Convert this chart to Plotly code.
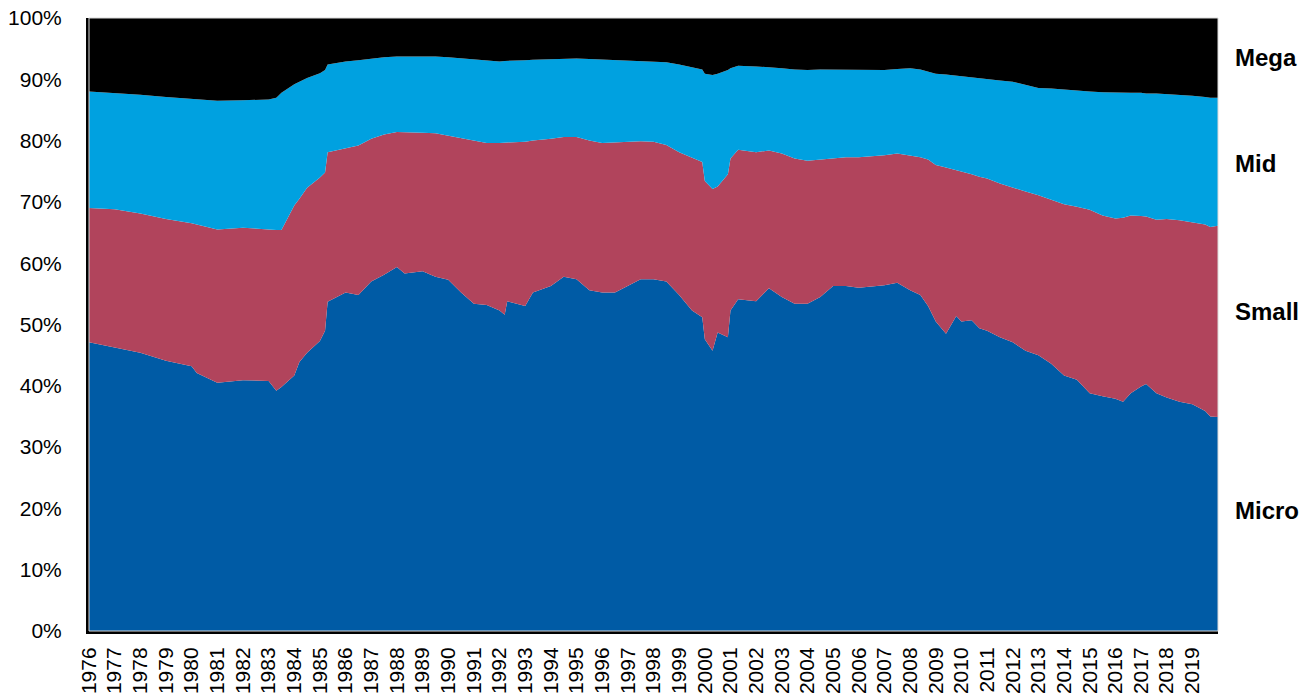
import plotly.graph_objects as go

# Time points (decimal years)
t = [1976.0, 1977.0, 1978.0, 1979.0, 1980.0, 1980.2, 1981.0, 1982.0, 1983.0, 1983.3,
     1983.5, 1984.0, 1984.2, 1984.5, 1985.0, 1985.2, 1985.3, 1986.0, 1986.5, 1987.0,
     1987.5, 1988.0, 1988.3, 1989.0, 1989.5, 1990.0, 1990.5, 1991.0, 1991.5, 1992.0,
     1992.2, 1992.3, 1993.0, 1993.3, 1994.0, 1994.5, 1995.0, 1995.5, 1996.0, 1996.5,
     1997.0, 1997.5, 1998.0, 1998.5, 1999.0, 1999.5, 1999.9, 2000.0, 2000.3, 2000.5,
     2000.9, 2001.0, 2001.3, 2002.0, 2002.5, 2003.0, 2003.5, 2004.0, 2004.5, 2005.0,
     2005.5, 2006.0, 2007.0, 2007.5, 2008.0, 2008.4, 2008.7, 2009.0, 2009.4, 2009.8,
     2010.0, 2010.4, 2010.7, 2011.0, 2011.5, 2012.0, 2012.5, 2013.0, 2013.5, 2014.0,
     2014.5, 2015.0, 2015.5, 2016.0, 2016.3, 2016.6, 2017.0, 2017.2, 2017.6, 2018.0,
     2018.5, 2019.0, 2019.5, 2019.7, 2020.0]

micro = [47.1, 46.3, 45.4, 44.1, 43.2, 42.1, 40.5, 40.9, 40.8, 39.2,
         39.8, 41.7, 43.9, 45.4, 47.3, 49.0, 53.7, 55.2, 54.8, 57.0,
         58.1, 59.4, 58.3, 58.7, 57.8, 57.3, 55.2, 53.4, 53.2, 52.3,
         51.6, 53.8, 53.0, 55.2, 56.3, 57.8, 57.4, 55.6, 55.2, 55.2,
         56.3, 57.4, 57.4, 57.0, 54.8, 52.3, 51.2, 47.6, 45.7, 48.7,
         47.9, 52.3, 54.1, 53.8, 55.9, 54.5, 53.4, 53.4, 54.5, 56.3,
         56.3, 56.0, 56.4, 56.8, 55.6, 54.8, 53.0, 50.5, 48.5, 51.4,
         50.5, 50.7, 49.4, 49.0, 47.9, 47.1, 45.7, 45.0, 43.6, 41.7,
         41.0, 38.8, 38.3, 37.9, 37.4, 38.8, 39.9, 40.3, 38.8, 38.1,
         37.4, 37.0, 35.9, 35.0, 34.9]

small = [21.9, 22.5, 22.7, 23.1, 23.3, 24.2, 25.0, 24.9, 24.6, 26.2,
         25.6, 27.7, 26.6, 26.9, 26.7, 25.8, 24.4, 23.5, 24.4, 23.3,
         22.9, 22.0, 23.1, 22.6, 23.4, 23.5, 25.3, 26.7, 26.4, 27.3,
         28.0, 25.9, 26.8, 24.8, 24.0, 22.8, 23.2, 24.4, 24.4, 24.5,
         23.5, 22.5, 22.4, 22.3, 23.3, 24.9, 25.3, 25.8, 26.4, 23.8,
         26.6, 24.8, 24.4, 24.3, 22.5, 23.4, 23.7, 23.3, 22.4, 20.8,
         21.0, 21.3, 21.2, 21.1, 22.0, 22.5, 23.9, 25.5, 27.1, 23.8,
         24.5, 23.8, 24.7, 24.8, 25.1, 25.2, 26.0, 26.1, 26.8, 27.9,
         28.2, 29.9, 29.5, 29.4, 30.0, 29.0, 27.8, 27.3, 28.3, 29.1,
         29.6, 29.7, 30.4, 30.9, 31.2]

mid = [19.0, 19.0, 19.4, 19.9, 20.3, 20.4, 21.0, 20.8, 21.3, 21.6,
       22.4, 19.8, 19.1, 17.9, 17.0, 16.7, 14.3, 14.2, 13.9, 13.1,
       12.6, 12.3, 12.3, 12.5, 12.5, 12.8, 12.9, 13.2, 13.5, 13.3,
       13.4, 13.3, 13.3, 13.2, 13.0, 12.8, 12.8, 13.3, 13.6, 13.4,
       13.2, 13.1, 13.1, 13.5, 14.3, 14.8, 15.1, 17.5, 18.6, 18.4,
       17.0, 14.7, 13.7, 14.0, 13.6, 13.9, 14.5, 14.8, 14.7, 14.5,
       14.3, 14.2, 13.9, 13.8, 14.2, 14.3, 14.3, 14.9, 15.2, 15.4,
       15.5, 15.8, 16.0, 16.2, 16.8, 17.3, 17.4, 17.5, 18.1, 18.7,
       18.9, 19.3, 20.1, 20.5, 20.4, 20.0, 20.1, 20.1, 20.6, 20.4,
       20.5, 20.6, 20.8, 21.1, 20.9]

mega = [12.0, 12.2, 12.5, 12.9, 13.2, 13.3, 13.5, 13.4, 13.3, 13.0,
        12.2, 10.8, 10.4, 9.8, 9.0, 8.5, 7.6, 7.1, 6.9, 6.6,
        6.4, 6.3, 6.3, 6.2, 6.3, 6.4, 6.6, 6.7, 6.9, 7.1,
        7.0, 7.0, 6.9, 6.8, 6.7, 6.6, 6.6, 6.7, 6.8, 6.9,
        7.0, 7.0, 7.1, 7.2, 7.6, 8.0, 8.4, 9.1, 9.3, 9.1,
        8.5, 8.2, 7.8, 7.9, 8.0, 8.2, 8.4, 8.5, 8.4, 8.4,
        8.4, 8.5, 8.5, 8.3, 8.2, 8.4, 8.8, 9.1, 9.2, 9.4,
        9.5, 9.7, 9.9, 10.0, 10.2, 10.4, 10.9, 11.4, 11.5, 11.7,
        11.9, 12.0, 12.1, 12.2, 12.2, 12.2, 12.2, 12.3, 12.3, 12.4,
        12.5, 12.7, 12.9, 13.0, 13.0]

tick_years = list(range(1976, 2020))
tick_labels = [str(y) for y in tick_years]
y_ticks = list(range(0, 101, 10))
y_tick_labels = [f"{v}%" for v in y_ticks]

series = [("Micro", micro, "#005BA5"),
          ("Small", small, "#B1445C"),
          ("Mid", mid, "#00A1E0"),
          ("Mega", mega, "#000000")]

label_y = {"Mega": 0.936, "Mid": 0.762, "Small": 0.522, "Micro": 0.197}

FONT = "Arial, Liberation Sans, sans-serif"

fig = go.Figure()
for name, vals, col in series:
    fig.add_trace(go.Scatter(
        x=t, y=vals, name=name, mode="lines", stackgroup="one",
        line=dict(width=0, color=col), fillcolor=col,
    ))

for name, _, _ in series:
    fig.add_annotation(
        x=1.0135, y=label_y[name], xref="paper", yref="paper",
        text=f"<b>{name}</b>", showarrow=False, xanchor="left", yanchor="middle",
        font=dict(family=FONT, size=24, color="#000000"),
    )

fig.add_shape(type="rect", xref="paper", yref="paper", x0=0, y0=0, x1=1, y1=1,
              line=dict(color="#D9D9D9", width=1), fillcolor="rgba(0,0,0,0)", layer="above")

fig.update_layout(
    width=1316, height=698,
    margin=dict(l=89, r=98, t=18, b=67, autoexpand=False),
    paper_bgcolor="white", plot_bgcolor="white",
    showlegend=False,
    font=dict(family=FONT, color="#000000"),
    xaxis=dict(
        range=[1976, 2020], tickmode="array", tickvals=tick_years, ticktext=tick_labels,
        tickangle=-90, tickfont=dict(family=FONT, size=21, color="#000000"),
        showgrid=False, zeroline=False, showline=True, linecolor="#000000", linewidth=3,
        ticks="", ticklabelstandoff=5, automargin=False,
    ),
    yaxis=dict(
        range=[0, 100], tickmode="array", tickvals=y_ticks, ticktext=y_tick_labels,
        tickfont=dict(family=FONT, size=21, color="#000000"),
        showgrid=False, zeroline=False, showline=True, linecolor="#000000", linewidth=3,
        ticks="", ticklabelstandoff=20, automargin=False,
    ),
)

fig.write_html(
    "out.html",
    config={"displayModeBar": False},
    post_script="document.body.style.margin='0';document.body.style.overflow='hidden';",
)
